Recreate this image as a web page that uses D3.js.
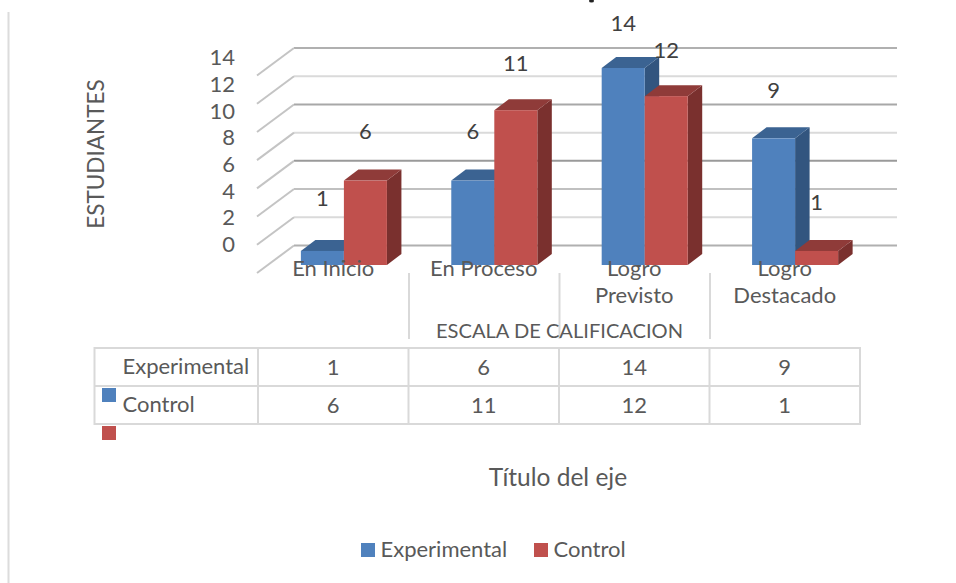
<!DOCTYPE html>
<html><head><meta charset="utf-8">
<script src="https://cdn.jsdelivr.net/npm/d3@7"></script>
<style>
html,body{margin:0;padding:0;background:#fff}
svg{display:block}
text{font-family:Lato,Carlito,sans-serif}
</style></head><body>
<svg id="c" width="956" height="583"></svg>
<script>
const categories=["En Inicio","En Proceso","Logro Previsto","Logro Destacado"];
const seriesNames=["Experimental","Control"];
const experimental=[1,6,14,9];
const control=[6,11,12,1];
const yTicks=[0,2,4,6,8,10,12,14];
const seriesValues=[experimental,control];
const W=956,H=583,FS=22;
const svg=d3.select("#c");
const fills=[{f:"#4f81bd",t:"#3b6392",s:"#32557f"},{f:"#c0504d",t:"#8f3b39",s:"#7a302e"}];
const textC="#595959",labelC="#404040",lineC="#d9d9d9";
const depthX=14.5,depthY=11;

const x0=d3.scaleBand().domain(categories).range([268.7,870.3]).paddingInner(0.428).paddingOuter(0.214);
const x1=d3.scaleBand().domain(seriesNames).range([0,x0.bandwidth()]);
const y=d3.scaleLinear().domain([0,14]).range([265,68]);
const yBack=d3.scaleLinear().domain([0,14]).range([245.5,48]);
const yTickLabels=d3.scaleLinear().domain([0,14]).range([244,57]);
const yValueLabels=d3.scaleLinear().domain([0,14]).range([211,22]);
const xTable=d3.scaleBand().domain(categories).range([258,860]);

// page border
svg.append("line").attr("x1",8.5).attr("x2",8.5).attr("y1",12).attr("y2",H).attr("stroke","#dcdcdc").attr("stroke-width",2);

// speck left at the top edge by the cropped-off chart title
svg.append("ellipse").attr("cx",591.5).attr("cy",1).attr("rx",2.5).attr("ry",1.5).attr("fill","#222");

// gridlines
const gridColors=["#b0b0b0","#dadada","#c0c0c0","#9a9a9a","#dadada","#a8a8a8","#dadada","#b0b0b0"];
const grid=svg.append("g");
yTicks.forEach((t,i)=>{
  grid.append("line").attr("x1",294).attr("x2",897).attr("y1",yBack(t)).attr("y2",yBack(t)).attr("stroke",gridColors[i]).attr("stroke-width",2);
  grid.append("line").attr("x1",257).attr("x2",294).attr("y1",yBack(t)+27.5).attr("y2",yBack(t)).attr("stroke","#c4c4c4").attr("stroke-width",2);
});

// bars
seriesNames.forEach((name,si)=>{
  const g=svg.append("g");
  const c=fills[si];
  categories.forEach((cat,ci)=>{
    const v=seriesValues[si][ci];
    const x=x0(cat)+x1(name),w=x1.bandwidth(),top=y(v),bot=y(0);
    g.append("path").attr("fill",c.s).attr("d",`M${x+w},${top}L${x+w+depthX},${top-depthY}L${x+w+depthX},${bot-depthY}L${x+w},${bot}Z`);
    g.append("path").attr("fill",c.t).attr("d",`M${x},${top}L${x+depthX},${top-depthY}L${x+w+depthX},${top-depthY}L${x+w},${top}Z`);
    g.append("rect").attr("x",x).attr("y",top).attr("width",w).attr("height",bot-top).attr("fill",c.f);
  });
});

// value labels
seriesNames.forEach((name,si)=>{
  categories.forEach((cat,ci)=>{
    const v=seriesValues[si][ci];
    const nudge=(si===1&&ci===3)?4:0;
    svg.append("text").attr("x",x0(cat)+x1(name)+x1.bandwidth()/2).attr("y",yValueLabels(v)+nudge)
      .attr("text-anchor","middle").attr("dominant-baseline","central")
      .attr("font-size",FS).attr("fill",labelC).text(v);
  });
});

// y axis
const ax=svg.append("g").attr("transform","translate(235,0)")
  .call(d3.axisLeft(yTickLabels).tickValues(yTicks).tickSize(0).tickPadding(0));
ax.select(".domain").remove();
ax.selectAll("text").attr("font-size",FS).attr("fill",textC).style("font-family","Lato").attr("dy","0.35em");

svg.append("text").attr("transform","translate(95,154) rotate(-90)").attr("text-anchor","middle").attr("dominant-baseline","central")
  .attr("font-size",22.5).attr("fill",textC).text("ESTUDIANTES");

// category ticks
categories.slice(1).forEach(c=>{
  svg.append("line").attr("x1",xTable(c)+.5).attr("x2",xTable(c)+.5).attr("y1",273).attr("y2",339).attr("stroke",lineC).attr("stroke-width",2);
});
// category labels
categories.forEach(c=>{
  const parts=c.startsWith("Logro")?c.split(" "):[c];
  parts.forEach((p,i)=>{
    svg.append("text").attr("x",xTable(c)+xTable.bandwidth()/2).attr("y",267+i*27.5)
      .attr("text-anchor","middle").attr("dominant-baseline","central")
      .attr("font-size",FS).attr("fill",textC).text(p);
  });
});
svg.append("text").attr("x",559.5).attr("y",330).attr("text-anchor","middle").attr("dominant-baseline","central")
  .attr("font-size",20.1).attr("fill",textC).text("ESCALA DE CALIFICACION");

// data table
const tb=svg.append("g").attr("stroke",lineC).attr("stroke-width",2).attr("fill","none");
const rowY=d3.scaleBand().domain(seriesNames).range([348,424]);
tb.append("rect").attr("x",94.5).attr("y",348).attr("width",765.5).attr("height",76);
tb.append("line").attr("x1",94.5).attr("x2",860).attr("y1",rowY("Control")).attr("y2",rowY("Control"));
categories.forEach(c=>tb.append("line").attr("x1",xTable(c)).attr("x2",xTable(c)).attr("y1",348).attr("y2",424));
seriesNames.forEach((name,si)=>{
  const cy=rowY(name)+rowY.bandwidth()/2;
  svg.append("text").attr("x",122.5).attr("y",cy-1.5).attr("dominant-baseline","central").attr("font-size",FS).attr("fill",textC).text(name);
  svg.append("rect").attr("x",102).attr("y",cy+21).attr("width",14).attr("height",14).attr("fill",fills[si].f);
  categories.forEach((c,ci)=>{
    svg.append("text").attr("x",xTable(c)+xTable.bandwidth()/2).attr("y",cy-.5).attr("text-anchor","middle").attr("dominant-baseline","central")
      .attr("font-size",FS).attr("fill",textC).text(seriesValues[si][ci]);
  });
});

// second axis title
svg.append("text").attr("x",558).attr("y",476).attr("text-anchor","middle").attr("dominant-baseline","central")
  .attr("font-size",24.5).attr("fill",textC).text("Título del eje");

// legend
const legendX=d3.scaleOrdinal().domain(seriesNames).range([361,534]);
seriesNames.forEach((name,si)=>{
  svg.append("rect").attr("x",legendX(name)).attr("y",543).attr("width",14).attr("height",14).attr("fill",fills[si].f);
  svg.append("text").attr("x",legendX(name)+19.5).attr("y",548).attr("dominant-baseline","central").attr("font-size",FS).attr("fill",textC).text(name);
});
</script></body></html>
